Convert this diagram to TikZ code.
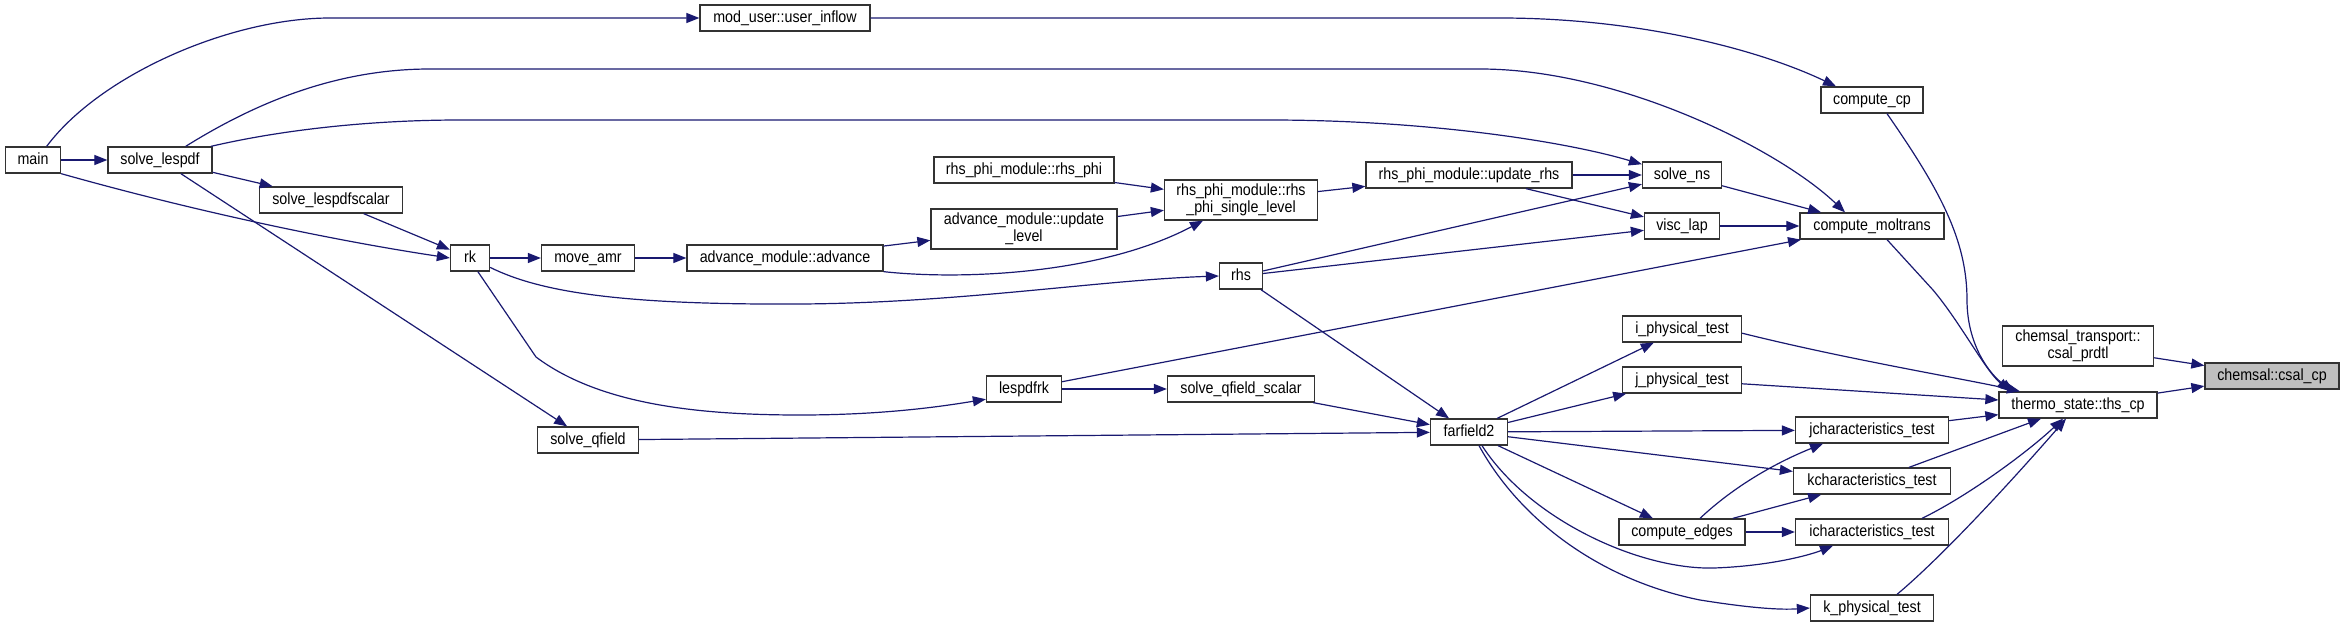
\documentclass[tikz,border=0pt]{standalone}
\usepackage{fontspec}
\setmainfont{Liberation Sans}[FakeStretch=0.88]
\usepackage{tikz}
\usetikzlibrary{arrows.meta}
\definecolor{callblue}{HTML}{191970}
\definecolor{rootgray}{HTML}{BFBFBF}
\tikzset{
  fnb/.style={rectangle, draw=black!80, fill=white, line width=0.65pt, minimum height=13pt,
              inner sep=0pt, font=\fontsize{8.1}{8.4}\selectfont},
  fn/.style={fnb, text height=5.9pt, text depth=1.8pt},               % one-line function
  fn2/.style={fnb, align=center, minimum height=20pt},                 % two-line function
  cur/.style={fn, fill=rootgray},                                      % graph root
  ce/.style={draw=callblue, line width=0.6pt, -{Triangle[length=6.5pt,width=5pt]}}, % call edge
}

\begin{document}
\begin{tikzpicture}[x=0.5pt, y=-0.5pt]
  \useasboundingbox (0,0) rectangle (2344,627);
  \node[fn, minimum width=27.5pt] (main)  at (33,160)   {main};
  \node[fn, minimum width=52pt]   (slp)   at (160,160)  {solve\_lespdf};
  \node[fn, minimum width=85pt]   (uin)   at (785,18)   {mod\_user::user\_inflow};
  \node[fn, minimum width=71.5pt] (slps)  at (331,200)  {solve\_lespdfscalar};
  \node[fn, minimum width=19.5pt] (rk)    at (470,258)  {rk};
  \node[fn, minimum width=46.5pt] (mamr)  at (588,258)  {move\_amr};
  \node[fn, minimum width=98pt]   (adv)   at (785,258)  {advance\_module::advance};
  \node[fn, minimum width=90pt]   (rphi)  at (1024,170) {rhs\_phi\_module::rhs\_phi};
  \node[fn2, minimum width=93pt]  (uplev) at (1024,229) {advance\_module::update\\\_level};
  \node[fn2, minimum width=76.5pt] (rsl)  at (1241,200) {rhs\_phi\_module::rhs\\\_phi\_single\_level};
  \node[fn, minimum width=103pt]  (urhs)  at (1469,175) {rhs\_phi\_module::update\_rhs};
  \node[fn, minimum width=21.5pt] (rhs)   at (1241,276) {rhs};
  \node[fn, minimum width=39.5pt] (sns)   at (1682,175) {solve\_ns};
  \node[fn, minimum width=37.5pt] (vlap)  at (1682,226) {visc\_lap};
  \node[fn, minimum width=51pt]   (ccp)   at (1872,100) {compute\_cp};
  \node[fn, minimum width=72pt]   (cmol)  at (1872,226) {compute\_moltrans};
  \node[fn, minimum width=37.5pt] (lrk)   at (1024,389) {lespdfrk};
  \node[fn, minimum width=73.5pt] (sqfs)  at (1241,389) {solve\_qfield\_scalar};
  \node[fn, minimum width=50.5pt] (sqf)   at (588,440)  {solve\_qfield};
  \node[fn, minimum width=38.5pt] (ff2)   at (1469,432) {farfield2};
  \node[fn, minimum width=59.5pt] (iphys) at (1682,329) {i\_physical\_test};
  \node[fn, minimum width=59.5pt] (jphys) at (1682,380) {j\_physical\_test};
  \node[fn, minimum width=76.5pt] (jchar) at (1872,430) {jcharacteristics\_test};
  \node[fn, minimum width=78.5pt] (kchar) at (1872,481) {kcharacteristics\_test};
  \node[fn, minimum width=63pt]   (cedg)  at (1682,532) {compute\_edges};
  \node[fn, minimum width=76.5pt] (ichar) at (1872,532) {icharacteristics\_test};
  \node[fn, minimum width=61.5pt] (kphys) at (1872,608) {k\_physical\_test};
  \node[fn, minimum width=79pt]   (ths)   at (2078,405) {thermo\_state::ths\_cp};
  \node[fn2, minimum width=75.5pt] (cprd) at (2078,346) {chemsal\_transport::\\csal\_prdtl};
  \node[cur, minimum width=67pt]  (csal)  at (2272,376) {chemsal::csal\_cp};
  % straight calls
  \foreach \u/\v in {main/slp,slp/slps,slp/sqf,slps/rk,rk/mamr,mamr/adv,adv/uplev,rphi/rsl,
                     uplev/rsl,rsl/urhs,urhs/sns,urhs/vlap,rhs/sns,rhs/vlap,rhs/ff2,sns/cmol,
                     vlap/cmol,lrk/cmol,lrk/sqfs,sqfs/ff2,sqf/ff2,ff2/iphys,ff2/jphys,ff2/jchar,
                     ff2/kchar,ff2/cedg,cedg/kchar,cedg/ichar,jphys/ths,jchar/ths,kchar/ths,
                     cprd/csal,ths/csal}
    \draw[ce] (\u)--(\v);
  % bent calls
  \draw[ce] (main.45) .. controls (100,75) and (230,18) .. (330,18) -- (uin.west);
  \draw[ce] (main.south east) .. controls (190,210) and (330,240) .. (rk.west);
  \draw[ce] (slp.28) .. controls (260,100) and (340,69) .. (430,69) -- (1480,69)
            .. controls (1620,69) and (1780,150) .. ([xshift=-13.5pt]cmol.north);
  \draw[ce] (slp.15) .. controls (290,128) and (380,120) .. (460,120) -- (1270,120)
            .. controls (1420,120) and (1560,140) .. (sns.165);
  \draw[ce] (rk.-25) .. controls (540,292) and (620,305) .. (800,304)
            .. controls (960,303) and (1100,280) .. (rhs.west);
  \draw[ce] (rk.-60) -- (536,357) .. controls (600,405) and (700,415) .. (800,415)
            .. controls (890,415) and (950,405) .. (lrk.-165);
  \draw[ce] (adv.south east) .. controls (960,280) and (1100,275) .. ([xshift=-19pt]rsl.south);
  \draw[ce] (uin.east) -- (1500,18) .. controls (1640,18) and (1760,50) .. ([xshift=-18pt]ccp.north);
  \draw[ce] ([xshift=7.5pt]ccp.south) .. controls (1940,190) and (1967,240) .. (1967,300)
            .. controls (1967,345) and (1990,375) .. ([xshift=-32pt]ths.north);
  \draw[ce] ([xshift=7.5pt]cmol.south) -- (1933,290) .. controls (1960,322) and (1985,370)
            .. ([xshift=-34pt]ths.north);
  \draw[ce] (iphys.-4) .. controls (1850,360) and (1960,378) .. ([xshift=-29pt]ths.north);
  \draw[ce] ([xshift=6.5pt]ff2.south) .. controls (1530,520) and (1640,570) .. (1714,568)
            .. controls (1770,566) and (1810,555) .. ([xshift=-19.5pt]ichar.south);
  \draw[ce] ([xshift=5pt]ff2.south) .. controls (1520,520) and (1600,580) .. (1700,600)
            .. controls (1750,608) and (1780,610) .. (kphys.west);
  \draw[ce] ([xshift=9pt]cedg.north) .. controls (1730,490) and (1770,465) .. ([xshift=-24.5pt]jchar.south);
  \draw[ce] ([xshift=25pt]ichar.north) .. controls (1970,495) and (2030,450) .. ([xshift=-7.5pt]ths.south);
  \draw[ce] ([xshift=12.5pt]kphys.north) .. controls (1950,550) and (2030,460) .. ([xshift=-6pt]ths.south);
\end{tikzpicture}
\end{document}
